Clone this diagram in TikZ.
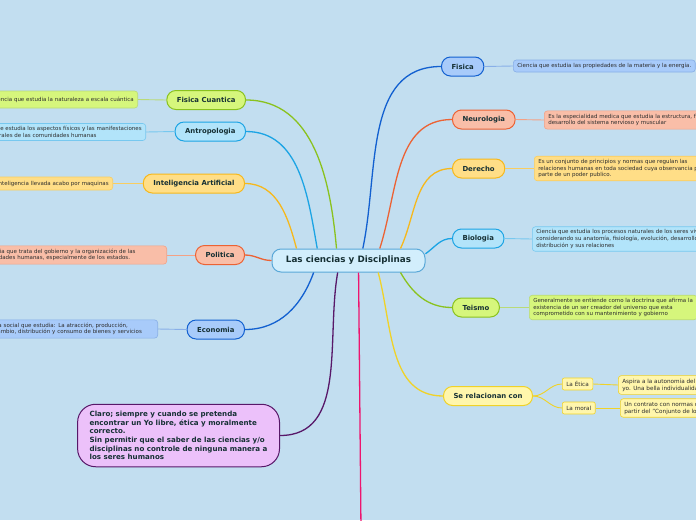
\documentclass[tikz,border=0pt]{standalone}
\usepackage{fontspec}
\setmainfont{DejaVu Sans}
\definecolor{fondo}{RGB}{194,222,240}
\definecolor{titulo}{RGB}{22,48,52}
\definecolor{notatxt}{RGB}{45,45,45}
\definecolor{verdef}{RGB}{214,246,124}
\definecolor{verdel}{RGB}{138,194,30}
\definecolor{cianf}{RGB}{178,228,250}
\definecolor{cianl}{RGB}{28,164,228}
\definecolor{amarf}{RGB}{255,222,135}
\definecolor{amarl}{RGB}{246,184,28}
\definecolor{salmf}{RGB}{249,190,168}
\definecolor{salml}{RGB}{236,98,52}
\definecolor{azulf}{RGB}{168,203,250}
\definecolor{azull}{RGB}{18,96,208}
\definecolor{moraf}{RGB}{236,193,250}
\definecolor{moral}{RGB}{88,24,105}
\definecolor{limaf}{RGB}{255,246,172}
\definecolor{limal}{RGB}{240,210,40}
\definecolor{rosal}{RGB}{238,20,110}
\definecolor{centrof}{RGB}{210,238,252}
\definecolor{centrol}{RGB}{90,168,216}

\begin{document}
\begin{tikzpicture}[
    x=1pt, y=-1pt,
    branch/.style={draw, rounded corners=9pt, line width=1pt, text=titulo,
        font=\bfseries\fontsize{6.9}{8}\selectfont, minimum height=19pt, inner xsep=10pt},
    note/.style={draw, rounded corners=3pt, line width=0.6pt, text=notatxt,
        font=\fontsize{5.5}{6.6}\selectfont, align=left, inner xsep=4pt, inner ysep=3pt},
    sub/.style={draw, rounded corners=2pt, line width=0.6pt, text=notatxt,
        font=\fontsize{5.7}{6.5}\selectfont, minimum height=12pt, inner xsep=4pt},
    link/.style={line width=1.3pt},
    notelink/.style={line width=0.9pt}
]
    % background and frame
    \useasboundingbox (0,0) rectangle (696,520);
    \fill[fondo] (0,0) rectangle (696,520);
    \clip (0,0) rectangle (696,520);

    % central topic
    \node[draw=centrol, fill=centrof, line width=1pt, rounded corners=9pt, text=titulo,
          font=\bfseries\fontsize{8.8}{10}\selectfont, minimum width=153pt, minimum height=23pt]
          (centro) at (348.5,260.5) {Las ciencias y Disciplinas};

    % left branches
    \node[branch, fill=verdef, draw=verdel, anchor=east] (fcuant) at (246,100) {Fisica Cuantica};
    \node[branch, fill=cianf, draw=cianl, anchor=east] (antro) at (246,131.5) {Antropologia};
    \node[branch, fill=amarf, draw=amarl, anchor=east] (intel) at (245,183.5) {Inteligencia Artificial};
    \node[branch, fill=salmf, draw=salml, anchor=east] (polit) at (245,255) {Politica};
    \node[branch, fill=azulf, draw=azull, anchor=east] (econ) at (245,329.5) {Economia};

    \node[note, fill=verdef, draw=verdel!60, anchor=east, minimum height=17pt] (fcuantnota) at (138,99.5)
        {Ciencia que estudia la naturaleza a escala cuántica};
    \node[note, fill=cianf, draw=cianl!60, anchor=east] (antronota) at (146,132)
        {Ciencia que estudia los aspectos físicos y las manifestaciones\\socioculturales de las comunidades humanas};
    \node[note, fill=amarf, draw=amarl!70, anchor=east, minimum height=13pt] (intelnota) at (113,183.5)
        {Es la inteligencia llevada acabo por maquinas};
    \node[note, fill=salmf, draw=salml!60, anchor=east, text width=178pt] (politnota) at (167,255)
        {Ciencia que trata del gobierno y la organización de las\\sociedades humanas, especialmente de los estados.};
    \node[note, fill=azulf, draw=azull!50, anchor=east, text width=172pt] (econnota) at (158,329)
        {Ciencia social que estudia: La atracción, producción,\\intercambio, distribución y consumo de bienes y servicios};

    % closing thought
    \node[draw=moral, fill=moraf, line width=1pt, rounded corners=18pt, text=titulo,
          font=\bfseries\fontsize{7.1}{8.6}\selectfont, align=left, inner xsep=12pt, inner ysep=7pt,
          anchor=east] (claro) at (280,435.5)
        {Claro; siempre y cuando se pretenda\\encontrar un Yo libre, ética y moralmente\\correcto.\\Sin permitir que el saber de las ciencias y/o\\disciplinas no controle de ninguna manera a\\los seres humanos};

    % right branches
    \node[branch, fill=azulf, draw=azull, anchor=west] (fisica) at (441,66.5) {Fisica};
    \node[branch, fill=salmf, draw=salml, anchor=west] (neuro) at (452,119.5) {Neurologia};
    \node[branch, fill=amarf, draw=amarl, anchor=west] (derecho) at (452,168.5) {Derecho};
    \node[branch, fill=cianf, draw=cianl, anchor=west] (bio) at (452,238.5) {Biologia};
    \node[branch, fill=verdef, draw=verdel, anchor=west] (teismo) at (452,307.5) {Teismo};
    \node[branch, fill=limaf, draw=limal, anchor=west] (serel) at (443,396) {Se relacionan con};

    \node[note, fill=azulf, draw=azull!50, anchor=west, minimum height=12pt] (fisicanota) at (513,66)
        {Ciencia que estudia las propiedades de la materia y la energía.};
    \node[note, fill=salmf, draw=salml!60, anchor=west] (neuronota) at (544,120)
        {Es la especialidad medica que estudia la estructura, función y\\desarrollo del sistema nervioso y muscular};
    \node[note, fill=amarf, draw=amarl!70, anchor=west] (derechonota) at (534,168.5)
        {Es un conjunto de principios y normas que regulan las\\relaciones humanas en toda sociedad cuya observancia puede\\parte de un poder publico.};
    \node[note, fill=cianf, draw=cianl!60, anchor=west] (bionota) at (532,239)
        {Ciencia que estudia los procesos naturales de los seres vivos\\considerando su anatomía, fisiología, evolución, desarrollo,\\distribución y sus relaciones};
    \node[note, fill=verdef, draw=verdel!60, anchor=west] (teismonota) at (529,307.5)
        {Generalmente se entiende como la doctrina que afirma la\\existencia de un ser creador del universo que esta\\comprometido con su mantenimiento y gobierno};

    \node[sub, fill=limaf, draw=limal, anchor=west] (etica) at (562,384) {La Ética};
    \node[sub, fill=limaf, draw=limal, anchor=west] (moralsub) at (562,408) {La moral};
    \node[note, fill=limaf, draw=limal, anchor=west, font=\fontsize{5.7}{7}\selectfont] (eticanota) at (618,385)
        {Aspira a la autonomía del ser,\\yo. Una bella individualidad};
    \node[note, fill=limaf, draw=limal, anchor=west, font=\fontsize{5.7}{7}\selectfont] (moralnota) at (620,408)
        {Un contrato con normas de\\partir del "Conjunto de los};

    \coordinate (abajo) at (361,530);

    % connectors from the central topic
    \draw[link, verdel] (centro.135) to[out=95, in=0] (fcuant.east);
    \draw[link, cianl] (centro.159) to[out=100, in=0] (antro.east);
    \draw[link, amarl] (centro.167) to[out=105, in=0] (intel.east);
    \draw[link, salml] (centro.west) to[out=180, in=0] (polit.east);
    \draw[link, azull] (centro.199) to[out=-110, in=0] (econ.east);
    \draw[link, moral] (centro.228) to[out=-100, in=0] (claro.east);
    \draw[link, rosal] (centro.310) -- (abajo);
    \draw[link, azull] (centro.40) to[out=78, in=180] (fisica.west);
    \draw[link, salml] (centro.21) to[out=72, in=180] (neuro.west);
    \draw[link, amarl] (centro.13) to[out=65, in=180] (derecho.west);
    \draw[link, cianl] (centro.5) to[out=35, in=180] (bio.west);
    \draw[link, verdel] (centro.347) to[out=-60, in=180] (teismo.west);
    \draw[link, limal] (centro.338) to[out=-75, in=180] (serel.west);

    % connectors to the notes
    \draw[notelink, verdel!60] (fcuant.west) -- (fcuantnota.east);
    \draw[notelink, cianl!60] (antro.west) -- (antronota.east);
    \draw[notelink, amarl!70] (intel.west) -- (intelnota.east);
    \draw[notelink, salml!60] (polit.west) -- (politnota.east);
    \draw[notelink, azull!50] (econ.west) -- (econnota.east);
    \draw[notelink, azull!50] (fisica.east) -- (fisicanota.west);
    \draw[notelink, salml!60] (neuro.east) -- (neuronota.west);
    \draw[notelink, amarl!70] (derecho.east) -- (derechonota.west);
    \draw[notelink, cianl!60] (bio.east) -- (bionota.west);
    \draw[notelink, verdel!60] (teismo.east) -- (teismonota.west);
    \draw[notelink, limal] (serel.east) to[out=0, in=180] (etica.west);
    \draw[notelink, limal] (serel.east) to[out=0, in=180] (moralsub.west);
    \draw[notelink, limal] (etica.east) -- (eticanota.west);
    \draw[notelink, limal] (moralsub.east) -- (moralnota.west);
\end{tikzpicture}
\end{document}
